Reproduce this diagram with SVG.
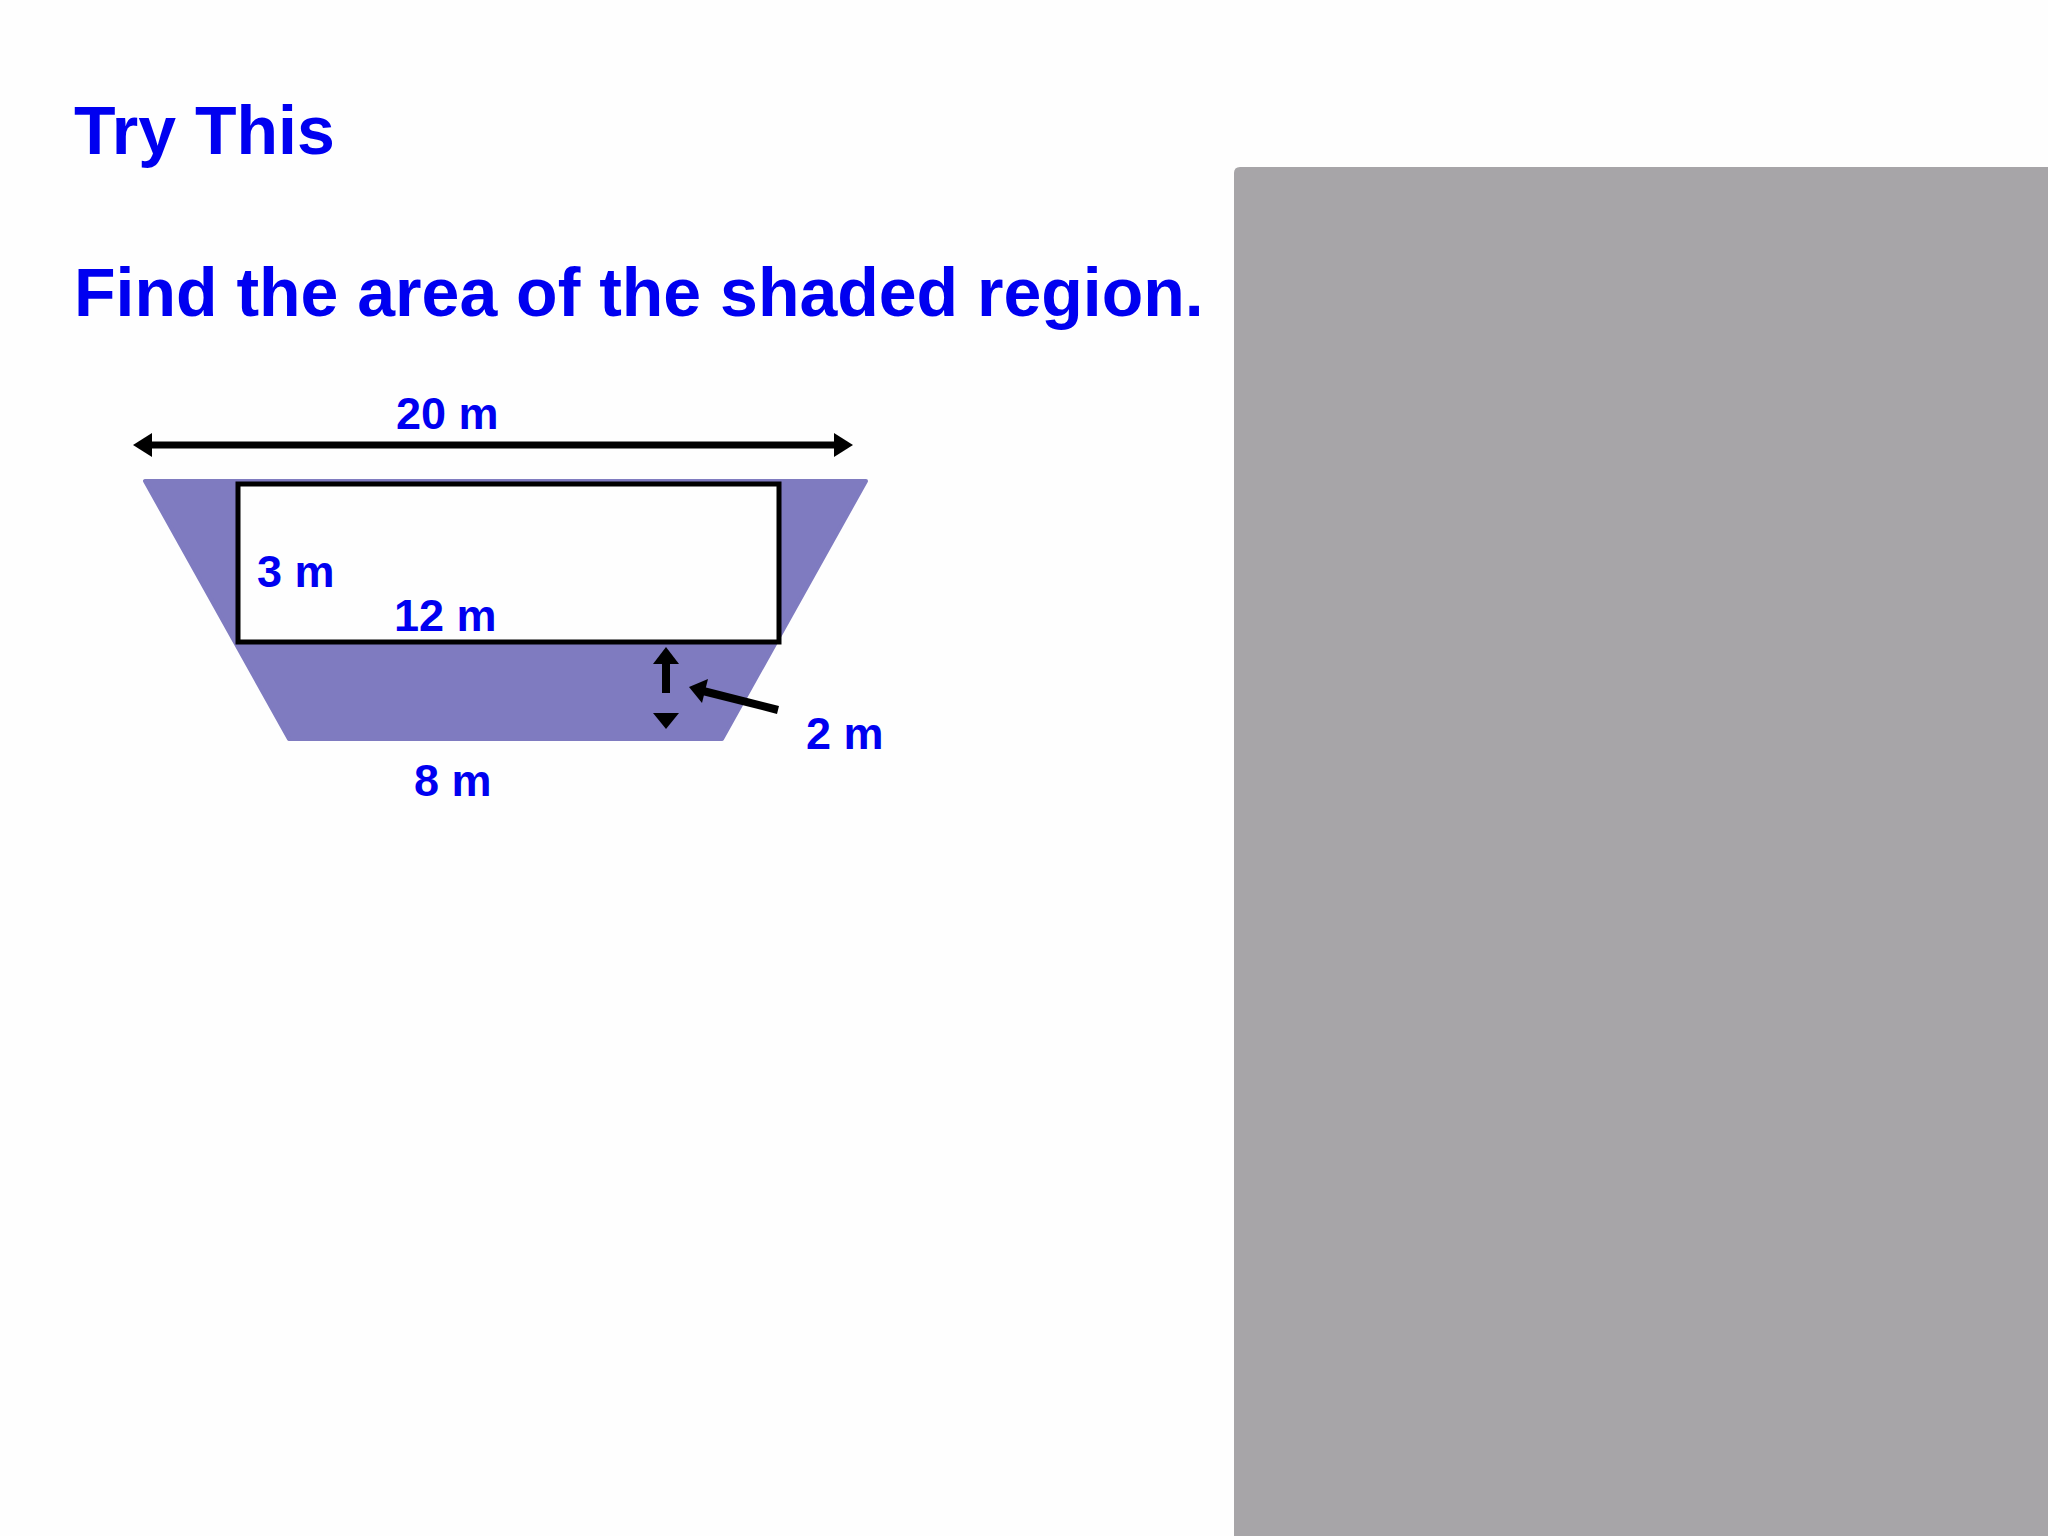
<svg xmlns="http://www.w3.org/2000/svg" width="2048" height="1536" viewBox="0 0 2048 1536">
  <style>
    .t { font-family: "Liberation Sans", Arial, sans-serif; font-weight: bold; fill: #0000f0; }
    .title { font-size: 68px; }
    .lbl { font-size: 45px; }
    .ln { stroke: #000; fill: none; }
    .head { fill: #000; }
  </style>
  <rect x="0" y="0" width="2048" height="1536" fill="#fefefe"/>
  <g id="panel">
    <path d="M1240,167 L2048,167 L2048,1536 L1234,1536 L1234,173 Q1234,167 1240,167 Z" fill="#a7a5a8"/>
  </g>
  <g id="texts">
    <text class="t title" x="74" y="154">Try This</text>
    <text class="t title" x="74" y="316">Find the area of the shaded region.</text>
  </g>
  <g id="trapezoid">
    <path d="M145,481 L866,481 L722,739 L289,739 Z" fill="#7f7bc0" stroke="#7f7bc0" stroke-width="4" stroke-linejoin="round"/>
  </g>
  <g id="rectangle">
    <rect x="238" y="484" width="541" height="158" fill="#fefefe" stroke="#000" stroke-width="5"/>
  </g>
  <g id="labels">
    <text class="t lbl" x="396" y="429">20 m</text>
    <text class="t lbl" x="257" y="587">3 m</text>
    <text class="t lbl" x="394" y="631">12 m</text>
    <text class="t lbl" x="806" y="749">2 m</text>
    <text class="t lbl" x="414" y="796">8 m</text>
  </g>
  <g id="connectors">
    <line class="ln" x1="150" y1="445" x2="836" y2="445" stroke-width="7"/>
    <path class="head" d="M133,445 L152,433 L152,457 Z"/>
    <path class="head" d="M853,445 L834,433 L834,457 Z"/>
    <line class="ln" x1="666" y1="660" x2="666" y2="693" stroke-width="8"/>
    <path class="head" d="M666,647 L653,664 L679,664 Z"/>
    <path class="head" d="M666,729 L653,713 L679,713 Z"/>
    <line class="ln" x1="778" y1="710" x2="703" y2="691" stroke-width="8"/>
    <path class="head" d="M689,687 L708,679 L702,703 Z"/>
  </g>
</svg>
